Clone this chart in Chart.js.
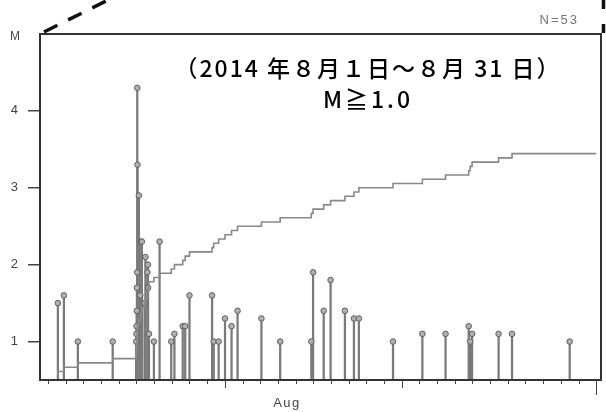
<!DOCTYPE html>
<html>
<head>
<meta charset="utf-8">
<script src="https://cdn.jsdelivr.net/npm/chart.js@4.4.1/dist/chart.umd.min.js"></script>
<style>
body{margin:0;background:#fff;}
#wrap{position:relative;width:606px;height:412px;}
</style>
</head>
<body>
<div id="wrap"><canvas id="mtChart" width="606" height="412"></canvas></div>
<script>
// event times as day of August (Aug 1 00:00 = 1.0, Sep 1 = 32)
var times = [1.56, 1.90, 2.69, 4.66,
  5.99, 6.00, 6.01, 6.02, 6.03, 6.04, 6.05, 6.06, 6.14, 6.22, 6.27, 6.31, 6.46, 6.51, 6.62, 6.65, 6.66,
  6.71, 6.99, 7.31, 7.97, 8.15, 8.62, 8.76, 9.00, 10.28, 10.37, 10.65, 11.01, 11.38, 11.72,
  13.07, 14.13, 15.89, 15.99, 16.59, 16.98, 17.79, 18.30, 18.58, 20.51, 22.17, 23.48,
  24.79, 24.87, 24.98, 26.48, 27.24, 30.50];
var mags = [1.5, 1.6, 1.0, 1.0,
  1.0, 1.1, 1.2, 1.4, 1.7, 1.9, 4.3, 3.3, 2.9, 1.6, 2.3, 2.3, 1.5, 2.1, 1.9, 2.0, 1.7,
  1.1, 1.0, 2.3, 1.0, 1.1, 1.2, 1.2, 1.6, 1.6, 1.0, 1.0, 1.3, 1.2, 1.4,
  1.3, 1.0, 1.0, 1.9, 1.4, 1.8, 1.4, 1.3, 1.3, 1.0, 1.1, 1.1,
  1.2, 1.0, 1.1, 1.1, 1.1, 1.0];
var yTicks = [1, 2, 3, 4];
var dayTicks = [];
for (var d = 1; d <= 32; d++) dayTicks.push(d);
var monthLabel = "Aug";
var countLabel = "N=53";
var titleText = "（2014 年８月１日～８月 31 日）";
var subTitle = "M≧1.0";
var periodEnd = 32;

var stems = times.map(function(t, i){ return {x: t, y: [0.5, mags[i]]}; });
var dots = times.map(function(t, i){ return {x: t, y: mags[i]}; });
var cum = times.map(function(t, i){ return {x: t, y: i + 1}; });
cum.push({x: periodEnd, y: times.length});

var decor = {
  id: 'decor',
  afterDraw: function(chart) {
    var c = chart.ctx, a = chart.chartArea, xs = chart.scales.x;
    c.save();
    // frame
    c.strokeStyle = '#333';
    c.lineWidth = 2;
    c.strokeRect(a.left, a.top, a.right - a.left, a.bottom - a.top);
    // day ticks
    c.strokeStyle = '#444';
    c.lineWidth = 1;
    dayTicks.forEach(function(d){
      var px = Math.round(xs.getPixelForValue(d)) + 0.5;
      var len = d == 32 ? 15 : (d == 11 || d == 21 ? 8 : 4);
      c.beginPath();
      c.moveTo(px, a.bottom);
      c.lineTo(px, a.bottom + len);
      c.stroke();
    });
    c.fillStyle = '#444';
    c.font = '13px "Liberation Sans"';
    c.textAlign = 'center';
    c.textBaseline = 'middle';
    c.letterSpacing = '1.5px';
    c.fillText(monthLabel, 287, 403);
    c.letterSpacing = '0px';
    c.font = '12px "Liberation Sans"';
    c.fillText('M', 15, 37);
    c.fillStyle = '#777';
    c.font = '13px "Liberation Sans"';
    c.textAlign = 'right';
    c.letterSpacing = '2px';
    c.fillText(countLabel, 579, 20);
    // title
    c.fillStyle = '#000';
    c.textAlign = 'center';
    c.font = '500 23px "Noto Sans CJK JP"';
    c.letterSpacing = '2px';
    c.fillText(titleText, 368, 68);
    c.letterSpacing = '3px';
    c.fillText(subTitle, 368, 99);
    c.letterSpacing = '0px';
    // dashed callout lines
    c.strokeStyle = '#111';
    c.lineWidth = 3.5;
    c.setLineDash([15, 12]);
    c.beginPath();
    c.moveTo(44, 32);
    c.lineTo(110, -1);
    c.stroke();
    c.setLineDash([9, 15]);
    c.beginPath();
    c.moveTo(603.5, 33);
    c.lineTo(603.5, 0);
    c.stroke();
    c.restore();
  }
};

new Chart(document.getElementById('mtChart').getContext('2d'), {
  type: 'bar',
  data: {
    datasets: [
      {
        type: 'bar',
        data: stems,
        backgroundColor: '#7a7a7a',
        barThickness: 1.6,
        grouped: false,
        yAxisID: 'y',
        order: 3
      },
      {
        type: 'line',
        data: dots,
        showLine: false,
        pointRadius: 2.8,
        pointBackgroundColor: '#b0b0b0',
        pointBorderColor: '#5e5e5e',
        pointBorderWidth: 1,
        yAxisID: 'y',
        order: 2
      },
      {
        type: 'line',
        data: cum,
        stepped: 'after',
        borderColor: '#888',
        borderWidth: 1.6,
        pointRadius: 0,
        fill: false,
        yAxisID: 'y2',
        order: 1
      }
    ]
  },
  options: {
    responsive: false,
    devicePixelRatio: 1,
    animation: false,
    layout: {padding: {left: 0, top: 34, right: 3, bottom: 32}},
    plugins: {legend: {display: false}, tooltip: {enabled: false}},
    scales: {
      x: {type: 'linear', display: false, offset: false, min: 0.549, max: 32.27},
      y: {
        type: 'linear', min: 0.5, max: 5, position: 'left',
        afterBuildTicks: function(s){ s.ticks = yTicks.map(function(v){ return {value: v}; }); },
        afterFit: function(s){ s.width = 40; },
        grid: {drawOnChartArea: false, tickLength: 12, color: '#444', lineWidth: 1.5},
        border: {display: false},
        ticks: {padding: 10, color: '#444', font: {family: 'Liberation Sans', size: 13}}
      },
      y2: {type: 'linear', display: false, min: 0, max: 81}
    }
  },
  plugins: [decor]
});
</script>
</body>
</html>
